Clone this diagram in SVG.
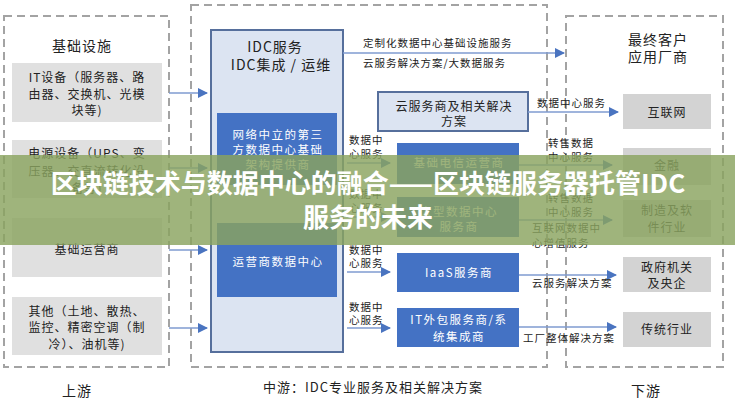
<svg xmlns="http://www.w3.org/2000/svg" width="735" height="400" viewBox="0 0 735 400">
<defs>
<marker id="ah" markerUnits="userSpaceOnUse" markerWidth="10" markerHeight="10" refX="9" refY="5" orient="auto">
<path d="M0,0 L10,5 L0,10 z" fill="#4a74c0"/>
</marker>
</defs>
<style>
text{font-family:"Noto Sans CJK SC","Noto Sans",sans-serif;fill:#222;}
.dash{fill:none;stroke:#a3a3a3;stroke-width:2;stroke-dasharray:8 5;}
.gl{fill:#e0e0e0;}
.gr{fill:#d3d3d3;}
.lb{fill:#dce4f2;stroke:#566f9c;stroke-width:2;}
.db{fill:#4472c4;}
.t12{font-size:12px;letter-spacing:1px;text-anchor:middle;}
.t14{font-size:14px;letter-spacing:1px;text-anchor:middle;}
.tw{font-size:11.5px;letter-spacing:1.5px;text-anchor:middle;fill:#fff;}
.lab{font-size:10.5px;letter-spacing:1px;}
.cn{fill:none;stroke:#7f9bd0;stroke-width:1.6;marker-end:url(#ah);}
.ban{font-size:26px;font-weight:bold;fill:#fff;text-anchor:middle;}
</style>
<rect width="735" height="400" fill="#ffffff"/>

<g id="upstream">
<rect class="dash" x="4" y="16" width="165" height="351"/>
<text class="t14" x="82" y="51">基础设施</text>
<text class="t14" x="77" y="396">上游</text>
</g>
<g id="it-equip">
<rect class="gl" x="12" y="63" width="150" height="59"/>
<text class="t12" x="87" y="82">IT设备（服务器、路</text>
<text class="t12" x="87" y="99">由器、交换机、光模</text>
<text class="t12" x="87" y="115">块等)</text>
</g>
<g id="power-equip">
<rect class="gl" x="12" y="140" width="150" height="58"/>
<text class="t12" x="87" y="158">电源设备（UPS、变</text>
<text class="t12" x="87" y="176">压器、交直流转化设</text>
<text class="t12" x="87" y="193">备等)</text>
</g>
<g id="base-operator">
<rect class="gl" x="12" y="218" width="150" height="59"/>
<text class="t12" x="87" y="254">基础运营商</text>
</g>
<g id="others">
<rect class="gl" x="12" y="297" width="150" height="58"/>
<text class="t12" x="87" y="316">其他（土地、散热、</text>
<text class="t12" x="87" y="332">监控、精密空调（制</text>
<text class="t12" x="87" y="349">冷）、油机等)</text>
</g>

<g id="midstream">
<rect class="dash" x="191" y="5" width="356" height="362"/>
<text x="373" y="392" style="font-size:13px;letter-spacing:1px;text-anchor:middle;">中游：IDC专业服务及相关解决方案</text>
</g>
<g id="idc">
<rect class="lb" x="211" y="30" width="132" height="322"/>
<text class="t14" x="275" y="52">IDC服务</text>
<text class="t14" x="281" y="70">IDC集成 / 运维</text>
</g>
<g id="neutral-dc">
<rect class="db" x="217" y="113" width="120" height="72"/>
<text class="tw" x="278" y="139">网络中立的第三</text>
<text class="tw" x="278" y="154">方数据中心基础</text>
<text class="tw" x="278" y="169">架构提供商</text>
</g>
<g id="operator-dc">
<rect class="db" x="217" y="223" width="120" height="74"/>
<text class="tw" x="278" y="266">运营商数据中心</text>
</g>
<g id="cloud">
<rect class="lb" x="378" y="92" width="150" height="39"/>
<text class="t12" x="454" y="111">云服务商及相关解决</text>
<text class="t12" x="454" y="126">方案</text>
</g>
<g id="telecom">
<rect class="db" x="397" y="143" width="122" height="41"/>
<text class="tw" x="459" y="167">基础电信运营商</text>
</g>
<g id="large-dc">
<rect class="db" x="397" y="197" width="122" height="40"/>
<text class="tw" x="459" y="216">大型数据中心</text>
<text class="tw" x="459" y="231">服务商</text>
</g>
<g id="iaas">
<rect class="db" x="397" y="253" width="122" height="39"/>
<text class="tw" x="459" y="277">IaaS服务商</text>
</g>
<g id="it-outsource">
<rect class="db" x="397" y="308" width="122" height="39"/>
<text class="tw" x="459" y="324">IT外包服务商/系</text>
<text class="tw" x="459" y="341">统集成商</text>
</g>

<g id="downstream">
<rect class="dash" x="566" y="16" width="157" height="351"/>
<text class="t14" x="658" y="45">最终客户</text>
<text class="t14" x="658" y="62">应用厂商</text>
<text class="t14" x="646" y="396">下游</text>
</g>
<g id="internet">
<rect class="gr" x="623" y="94" width="88" height="35"/>
<text class="t12" x="667" y="117">互联网</text>
</g>
<g id="finance">
<rect class="gr" x="623" y="148" width="88" height="37"/>
<text class="t12" x="667" y="170">金融</text>
</g>
<g id="manufacturing">
<rect class="gr" x="623" y="200" width="88" height="37"/>
<text class="t12" x="667" y="215">制造及软</text>
<text class="t12" x="667" y="232">件行业</text>
</g>
<g id="government">
<rect class="gr" x="623" y="257" width="88" height="35"/>
<text class="t12" x="667" y="272">政府机关</text>
<text class="t12" x="667" y="288">及央企</text>
</g>
<g id="traditional">
<rect class="gr" x="623" y="312" width="88" height="35"/>
<text class="t12" x="667" y="334">传统行业</text>
</g>

<g id="connectors">
<line class="cn" x1="169" y1="93" x2="207" y2="93"/>
<line class="cn" x1="169" y1="168" x2="207" y2="168"/>
<line class="cn" x1="169" y1="250" x2="207" y2="250"/>
<line class="cn" x1="169" y1="328" x2="207" y2="328"/>
<line class="cn" x1="343" y1="53" x2="564" y2="53"/>
<line class="cn" x1="347" y1="163" x2="390" y2="163"/>
<line class="cn" x1="347" y1="217" x2="390" y2="217"/>
<line class="cn" x1="347" y1="272" x2="390" y2="272"/>
<line class="cn" x1="347" y1="328" x2="390" y2="328"/>
<line class="cn" x1="528" y1="112" x2="618" y2="112"/>
<line class="cn" x1="519" y1="165" x2="612" y2="165"/>
<line class="cn" x1="519" y1="220" x2="612" y2="220"/>
<line class="cn" x1="519" y1="275" x2="616" y2="275"/>
<line class="cn" x1="519" y1="327" x2="616" y2="327"/>
<text class="lab" x="363" y="47">定制化数据中心基础设施服务</text>
<text class="lab" x="363" y="67">云服务解决方案/大数据服务</text>
<text class="lab" x="349" y="144">数据中</text>
<text class="lab" x="349" y="158">心服务</text>
<text class="lab" x="349" y="198">数据中</text>
<text class="lab" x="349" y="212">心服务</text>
<text class="lab" x="349" y="254">数据中</text>
<text class="lab" x="349" y="267">心服务</text>
<text class="lab" x="349" y="311">数据中</text>
<text class="lab" x="349" y="324">心服务</text>
<text class="lab" x="537" y="107">数据中心服务</text>
<text class="lab" x="548" y="147">转售数据</text>
<text class="lab" x="548" y="161">中心服务</text>
<text class="lab" x="548" y="202">转售数据</text>
<text class="lab" x="548" y="216">中心服务</text>
<text class="lab" x="532" y="232">互联网数据中</text>
<text class="lab" x="532" y="247">心增值服务</text>
<text class="lab" x="532" y="287">云服务解决方案</text>
<text class="lab" x="523" y="342">工厂整体解决方案</text>
</g>

<g id="banner">
<rect x="0" y="155" width="735" height="90" fill="#8aa35f" opacity="0.82"/>
<text class="ban" x="368" y="193">区块链技术与数据中心的融合——区块链服务器托管IDC</text>
<text class="ban" x="368" y="227">服务的未来</text>
</g>
</svg>
